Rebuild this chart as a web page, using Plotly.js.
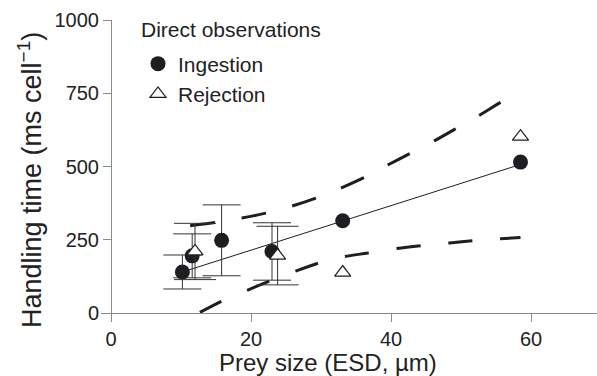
<!DOCTYPE html>
<html>
<head>
<meta charset="utf-8">
<script src="https://cdn.plot.ly/plotly-3.0.1.min.js"></script>
<style>html,body{margin:0;padding:0;background:#fff;}#chart{width:597px;height:376px;}</style>
</head>
<body>
<div id="chart"></div>
<script>
// Ingestion (filled circles)
const ingX = [10.2, 11.6, 15.8, 23.0, 33.1, 58.5];
const ingY = [140, 195, 248, 210, 315, 515];
const ingErr = [58, 75, 121, 98, null, null];
// Rejection (triangles)
const rejX = [12.0, 23.8, 33.1, 58.5];
const rejY = [210, 196, 138, 602];
const rejErr = [96, 100, null, null];
// Regression line (ingestion)
const fitX = [10.2, 58.5];
const fitY = [140, 507];
// Confidence band
const upX = [11.3, 14.9, 18.7, 22.1, 26.0, 29.3, 33.0, 36.3, 39.6, 43.0, 46.3, 49.4, 52.7, 55.8, 58.5];
const upY = [298, 309, 324, 341, 366, 392, 428, 464, 506, 548, 589, 631, 676, 721, 755];
const loX = [12.7, 15.8, 19.6, 22.7, 26.5, 29.6, 33.4, 36.5, 40.8, 44.4, 48.4, 51.8, 55.6, 58.5];
const loY = [2, 40, 79, 110, 144, 170, 193, 204, 220, 230, 239, 247, 253, 258];
// Ticks
const xTicks = [0, 20, 40, 60];
const yTicks = [0, 250, 500, 750, 1000];

const FONT = 'Liberation Sans, Arial, Helvetica, sans-serif';
const INK = '#1e1e22';
const AX = '#8a8a8a';

// split a series into points with and without error bars
function split(xs, ys, es, withErr) {
  const o = {x: [], y: [], e: []};
  xs.forEach((x, i) => {
    const has = es[i] !== null && es[i] !== undefined;
    if (has === withErr) { o.x.push(x); o.y.push(ys[i]); o.e.push(es[i]); }
  });
  return o;
}
const ingE = split(ingX, ingY, ingErr, true), ingN = split(ingX, ingY, ingErr, false);
const rejE = split(rejX, rejY, rejErr, true), rejN = split(rejX, rejY, rejErr, false);

const ingMarker = {symbol: 'circle', size: 15, color: INK};
const rejMarker = {symbol: 'triangle-up', size: 14, color: '#ffffff', line: {color: INK, width: 1.2}};
const errStyle = {type: 'data', visible: true, color: '#333', thickness: 1};

const traces = [
  {x: upX, y: upY, mode: 'lines', line: {color: INK, width: 3, dash: '25px,27px', shape: 'spline', smoothing: 0.6}, showlegend: false, hoverinfo: 'skip'},
  {x: loX, y: loY, mode: 'lines', line: {color: INK, width: 3, dash: '24px,28px', shape: 'spline', smoothing: 0.6}, showlegend: false, hoverinfo: 'skip'},
  {x: fitX, y: fitY, mode: 'lines', line: {color: INK, width: 1}, showlegend: false, hoverinfo: 'skip'},
  {x: ingE.x, y: ingE.y, mode: 'markers', name: 'Ingestion', legendgroup: 'ing', marker: ingMarker,
   error_y: Object.assign({array: ingE.e, width: 19}, errStyle)},
  {x: ingN.x, y: ingN.y, mode: 'markers', name: 'Ingestion', legendgroup: 'ing', showlegend: false, marker: ingMarker},
  {x: rejE.x, y: rejE.y, mode: 'markers', name: 'Rejection', legendgroup: 'rej', marker: rejMarker,
   error_y: Object.assign({array: rejE.e, width: 21}, errStyle)},
  {x: rejN.x, y: rejN.y, mode: 'markers', name: 'Rejection', legendgroup: 'rej', showlegend: false, marker: rejMarker}
];

const L = 101, R = 0, T = 20, B = 63;
const W = 597, H = 376;
const pw = W - L - R, ph = H - T - B;
const xmin = -10/7, xmax = xmin + pw/7;

const layout = {
  width: W, height: H,
  margin: {l: L, r: R, t: T, b: B, pad: 0},
  paper_bgcolor: '#fff', plot_bgcolor: '#fff',
  font: {family: FONT, color: '#222', size: 20},
  showlegend: true,
  legend: {
    x: (138 - L)/pw, y: (H - B - 43.5)/ph, xanchor: 'left', yanchor: 'top',
    bgcolor: 'rgba(0,0,0,0)', borderwidth: 0,
    font: {family: FONT, size: 21, color: '#222'},
    tracegroupgap: 0
  },
  xaxis: {
    range: [xmin, xmax], tickvals: xTicks, ticktext: xTicks.map(String),
    showgrid: false, zeroline: false, showline: true, linecolor: AX, linewidth: 1,
    ticks: 'outside', ticklen: 8, tickcolor: AX, tickwidth: 1,
    tickfont: {family: FONT, size: 20, color: '#222'}, fixedrange: true
  },
  yaxis: {
    range: [0, 1000], tickvals: yTicks, ticktext: yTicks.map(String),
    anchor: 'free', position: (111 - L)/pw,
    showgrid: false, zeroline: false, showline: true, linecolor: AX, linewidth: 1,
    ticks: 'outside', ticklen: 8, tickcolor: AX, tickwidth: 1,
    tickfont: {family: FONT, size: 20, color: '#222'}, fixedrange: true
  },
  annotations: [
    {text: 'Direct observations', xref: 'paper', yref: 'paper',
     x: (139 - L)/pw, y: (H - B - 29)/ph, xanchor: 'left', yanchor: 'middle',
     showarrow: false, font: {family: FONT, size: 21, color: '#222'}},
    {text: 'Prey size (ESD, µm)', xref: 'paper', yref: 'paper',
     x: (327.6 - L)/pw, y: (H - B - 362)/ph, xanchor: 'center', yanchor: 'middle',
     showarrow: false, font: {family: FONT, size: 24, color: '#222'}},
    {text: 'Handling time (ms cell<sup>−1</sup>)', xref: 'paper', yref: 'paper',
     x: (30 - L)/pw, y: (H - B - 180)/ph, xanchor: 'center', yanchor: 'middle', textangle: -90,
     showarrow: false, font: {family: FONT, size: 27, color: '#222'}}
  ]
};

Plotly.newPlot('chart', traces, layout, {staticPlot: true, displayModeBar: false});
</script>
</body>
</html>
